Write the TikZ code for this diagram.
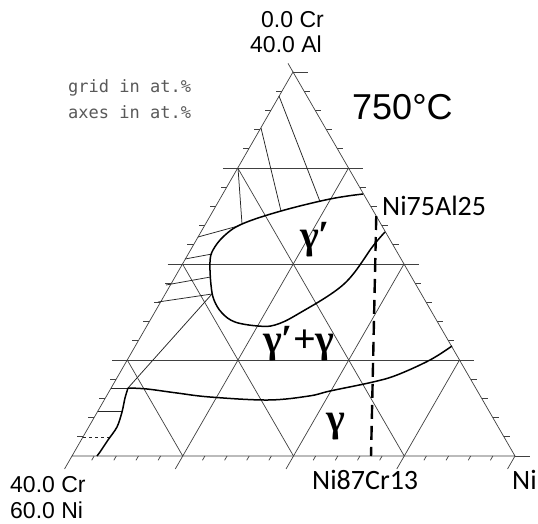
\documentclass[tikz,border=0pt]{standalone}
\usepackage{fontspec}
\setmainfont{Liberation Sans}
\newfontfamily\calfont{Carlito}
\newfontfamily\serfont{Liberation Serif}
\newfontfamily\monofont{DejaVu Sans Mono}
\begin{document}
\begin{tikzpicture}[x=1pt,y=-1pt,
  gridline/.style={line width=0.7pt, black!75},
  tickline/.style={line width=0.7pt, black!75},
  phase/.style={line width=1.5pt, black, line join=round},
  tie/.style={line width=0.75pt, black!85},
  compline/.style={line width=2.4pt, black, dash pattern=on 14pt off 7pt},
  axlbl/.style={inner sep=0pt, font=\fontsize{23}{23}\selectfont},
  callbl/.style={inner sep=0pt, font=\calfont\fontsize{28}{28}\selectfont},
  gamlbl/.style={inner sep=0pt, anchor=base west, font=\serfont\bfseries\fontsize{40}{40}\selectfont},
  notelbl/.style={inner sep=0pt, anchor=base west, text=black!65, font=\monofont\fontsize{17}{17}\selectfont}]
\fill[white] (0,0) rectangle (538,524);
\useasboundingbox (0,0) rectangle (538,524);

% ternary frame, grid and ticks: coordinates (Cr, Al) in at.%
\begin{scope}[shift={(515,456)}, x={(-11.075pt,0pt)}, y={(-5.55pt,9.6pt)}]
  \draw[gridline] (0,0) -- (40,0) -- (0,40) -- cycle;
  \foreach \k in {10,20,30} {
    \draw[gridline] (41.35-\k,\k) -- (-1.35,\k);
    \draw[gridline] (\k,0) -- (\k,40-\k);
    \draw[gridline] (\k,0) -- (0,\k);
  }
  \foreach \c in {0,2,...,40} {
    \pgfmathsetmacro\L{ifthenelse(mod(\c,10)==0,1.35,0.45)}
    \draw[tickline] (\c,0) -- ++(\L,-\L);
  }
  \foreach \a in {0,2,...,40} {
    \pgfmathsetmacro\L{ifthenelse(mod(\a,10)==0,1.35,0.55)}
    \draw[tickline] (0,\a) -- ++(-\L,0);
  }
  \foreach \a in {2,4,...,38} {
    \draw[tickline] (40-\a,\a) -- ++(0.55,0);
  }
  \draw[tickline] (0,40) -- (0,40.9);
  \coordinate (NiAl) at (0,25);
  \coordinate (NiCr) at (13,0);
\end{scope}

% tie lines
\draw[tie] (279,96) -- (320,201.5);
\draw[tie] (261,128) -- (281,211);
\draw[tie] (238,168) -- (242,224);
\draw[tie] (198,237) -- (240,225.5);
\draw[tie] (185,259) -- (212,254);
\draw[tie] (166,285) -- (210.5,277);
\draw[tie] (158,302) -- (212,294);
\draw[tie] (212,294) -- (128,388);
\draw[tie] (111,388) -- (128,388);
\draw[tie] (98,411) -- (122,411);
\draw[tie, dashed, line width=0.6pt] (83,437) -- (109,437);

% phase boundaries
\draw[phase] plot[smooth, tension=0.6] coordinates {
  (363,194) (330,199) (281,211) (242,224) (224,236) (213,250) (210,262)
  (211,285) (214,300) (222,313) (235,322) (258,326) (275,325) (298,314)
  (344,284) (373,246) (385,232)};
\draw[phase] plot[smooth, tension=0.6] coordinates {
  (452,346) (430,360) (397,375) (373,382) (330,391) (309,396) (268,400)
  (210,397) (177,393) (147,389) (128,388)};
\draw[phase] plot[smooth, tension=0.5] coordinates {
  (128,388) (125,398) (122,412) (117,427) (108,440) (100,452) (97,456)};

% composition line
\draw[compline] (NiAl) -- (NiCr);

% labels
\node[axlbl, anchor=base east] (topCr) at (324,28) {0.0 Cr};
\node[axlbl, anchor=base east] (topAl) at (322,53) {40.0 Al};
\node[axlbl, anchor=base west] (blCr) at (10,492) {40.0 Cr};
\node[axlbl, anchor=base west] (blNi) at (10,518) {60.0 Ni};
\node[inner sep=0pt, anchor=base west, font=\fontsize{36}{36}\selectfont] (temp) at (352,120) {750°C};
\node[notelbl] (note1) at (68,93) {grid in at.\%};
\node[notelbl] (note2) at (68,119) {axes in at.\%};
\node[callbl, anchor=base west] (lNiAl) at (382,215) {Ni75Al25};
\node[callbl, anchor=base west] (lNiCr) at (312,489) {Ni87Cr13};
\node[callbl, anchor=base west] (lNi) at (512,489) {Ni};
\node[gamlbl] (g1) at (300,248) {γ′};
\node[gamlbl] (g2) at (263,352) {γ′+γ};
\node[gamlbl] (g3) at (326,431) {γ};
\end{tikzpicture}
\end{document}
